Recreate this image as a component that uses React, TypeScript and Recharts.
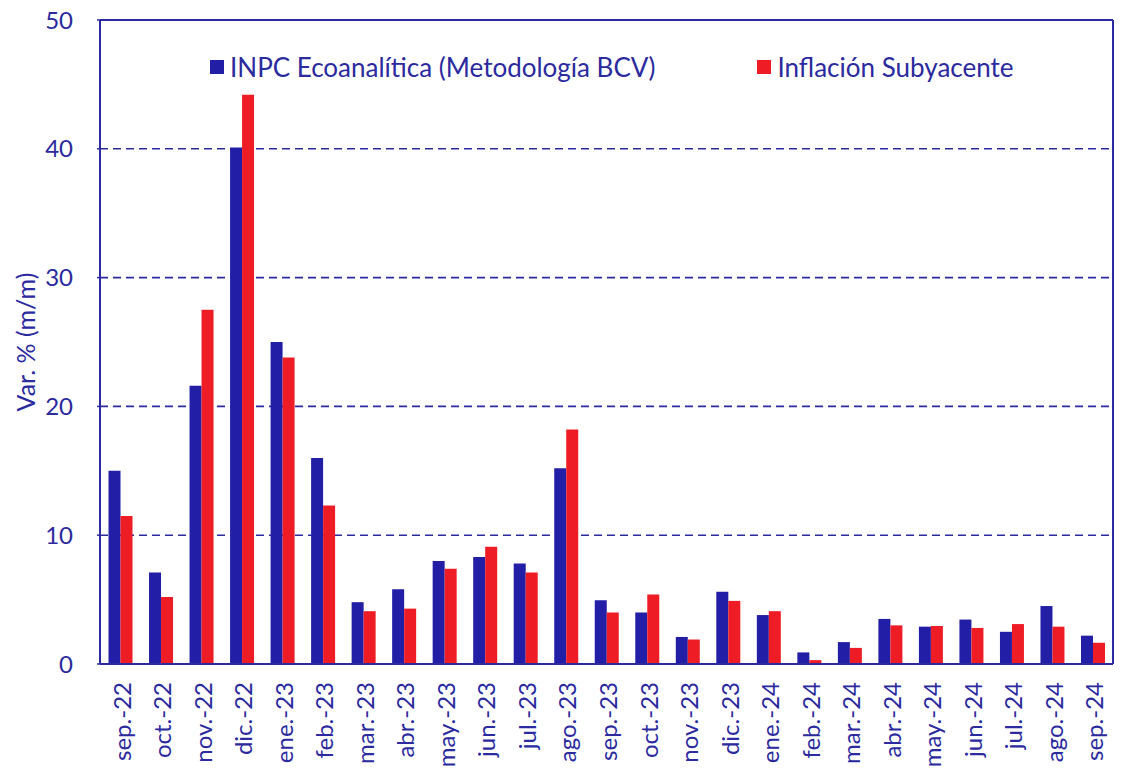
import React from "react";
import {
  BarChart,
  Bar,
  XAxis,
  YAxis,
  CartesianGrid,
  ReferenceLine,
} from "recharts";

const months = [
  "sep.-22", "oct.-22", "nov.-22", "dic.-22", "ene.-23", "feb.-23", "mar.-23",
  "abr.-23", "may.-23", "jun.-23", "jul.-23", "ago.-23", "sep.-23", "oct.-23",
  "nov.-23", "dic.-23", "ene.-24", "feb.-24", "mar.-24", "abr.-24", "may.-24",
  "jun.-24", "jul.-24", "ago.-24", "sep.-24",
];

const inpc = [
  15.0, 7.1, 21.6, 40.1, 25.0, 16.0, 4.8, 5.8, 8.0, 8.3, 7.8, 15.2, 4.95,
  4.0, 2.1, 5.6, 3.8, 0.9, 1.7, 3.5, 2.9, 3.45, 2.5, 4.5, 2.2,
];

const subyacente = [
  11.5, 5.2, 27.5, 44.2, 23.8, 12.3, 4.1, 4.3, 7.4, 9.1, 7.1, 18.2, 4.0,
  5.4, 1.9, 4.9, 4.1, 0.3, 1.25, 3.0, 2.95, 2.8, 3.1, 2.9, 1.65,
];

const yTicks = [0, 10, 20, 30, 40, 50];

const seriesNames = ["INPC Ecoanalítica (Metodología BCV)", "Inflación Subyacente"];

const INK = "#2b2a9e";
const BLUE = "#221ea6";
const RED = "#ee1c25";
const FONT = "Lato, 'Open Sans', sans-serif";

const data = months.map((m, i) => ({ month: m, inpc: inpc[i], sub: subyacente[i] }));

function MonthTick(props: any) {
  const { x, y, payload } = props;
  const ty = y + 18;
  return (
    <text
      x={x + 1}
      y={ty}
      transform={`rotate(-90, ${x + 1}, ${ty})`}
      textAnchor="end"
      dominantBaseline="central"
      fill={INK}
      fontSize={24}
      fontFamily={FONT}
    >
      {payload.value}
    </text>
  );
}

function YLabel(props: any) {
  const vb = props.viewBox || {};
  const cy = (vb.y ?? 20) + (vb.height ?? 644) / 2;
  return (
    <text
      x={25}
      y={cy}
      transform={`rotate(-90, 25, ${cy})`}
      textAnchor="middle"
      dominantBaseline="central"
      fill={INK}
      fontSize={25}
      fontFamily={FONT}
    >
      Var. % (m/m)
    </text>
  );
}

export default function App() {
  return (
    <div style={{ position: "absolute", left: 0, top: 0, width: 1125, height: 772, background: "#fff" }}>
      <BarChart
        width={1125}
        height={772}
        data={data}
        margin={{ top: 20, right: 11, bottom: 0, left: 0 }}
        barCategoryGap="21%"
        barGap={0}
      >
        <CartesianGrid
          yAxisId="left"
          vertical={false}
          stroke={INK}
          strokeDasharray="8 5"
          strokeWidth={1.6}
        />
        <XAxis
          dataKey="month"
          height={108}
          tickLine={false}
          tickSize={0}
          tickMargin={0}
          interval={0}
          axisLine={{ stroke: INK, strokeWidth: 2 }}
          tick={<MonthTick />}
        />
        <YAxis
          yAxisId="left"
          width={100}
          domain={[0, 50]}
          ticks={yTicks}
          interval={0}
          tickSize={3}
          tickMargin={24}
          axisLine={{ stroke: INK, strokeWidth: 2 }}
          tickLine={{ stroke: INK, strokeWidth: 1.5 }}
          tick={{ fill: INK, fontSize: 24, fontFamily: FONT }}
          label={<YLabel />}
        />
        <YAxis
          yAxisId="right"
          orientation="right"
          width={1}
          domain={[0, 50]}
          tick={false}
          tickLine={false}
          axisLine={{ stroke: INK, strokeWidth: 2 }}
        />
        <ReferenceLine yAxisId="left" y={50} stroke={INK} strokeWidth={2} />
        <Bar yAxisId="left" dataKey="inpc" name={seriesNames[0]} fill={BLUE} isAnimationActive={false} />
        <Bar yAxisId="left" dataKey="sub" name={seriesNames[1]} fill={RED} isAnimationActive={false} />
      </BarChart>
      <div
        style={{
          position: "absolute",
          left: 210,
          top: 51,
          display: "flex",
          alignItems: "center",
          fontFamily: FONT,
          fontSize: 26,
          lineHeight: "32px",
          color: INK,
          whiteSpace: "nowrap",
        }}
      >
        {seriesNames.map((n, i) => (
          <div key={n} style={{ display: "flex", alignItems: "center", marginRight: i === 0 ? 102 : 0 }}>
            <span style={{ width: 14, height: 14, background: i === 0 ? BLUE : RED, marginRight: 6, display: "inline-block" }} />
            <span>{n}</span>
          </div>
        ))}
      </div>
    </div>
  );
}
